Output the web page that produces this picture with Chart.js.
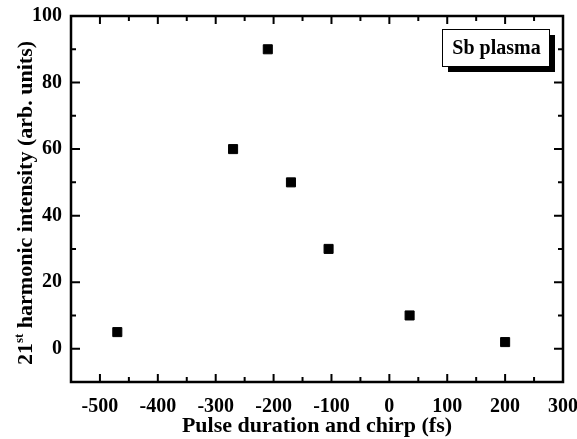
<!DOCTYPE html>
<html>
<head>
<meta charset="utf-8">
<script src="https://cdn.jsdelivr.net/npm/chart.js@4"></script>
<style>
  html, body { margin: 0; padding: 0; background: #fff; }
  canvas { display: block; }
</style>
</head>
<body>
<canvas id="chart" width="577" height="439"></canvas>
<script>
// data
const pulseDuration = [-470, -270, -210, -170, -105, 35, 200];
const intensity = [5, 60, 90, 50, 30, 10, 2];
const xTicks = [-500, -400, -300, -200, -100, 0, 100, 200, 300];
const yTicks = [0, 20, 40, 60, 80, 100];
const xMinor = [-550, -450, -350, -250, -150, -50, 50, 150, 250];
const yMinor = [-10, 10, 30, 50, 70, 90];

const FONT = '"Liberation Serif", "Times New Roman", serif';

// frame, inward ticks, axis titles and the label box
const framePlugin = {
    id: 'frame',
    afterDraw(chart) {
        const ctx = chart.ctx;
        const a = chart.chartArea;
        const xs = chart.scales.x, ys = chart.scales.y;
        ctx.save();
        ctx.strokeStyle = '#000';
        ctx.lineWidth = 2.5;
        ctx.strokeRect(a.left, a.top, a.right - a.left, a.bottom - a.top);

        ctx.lineWidth = 2;
        ctx.beginPath();
        xTicks.forEach(v => {
            const px = xs.getPixelForValue(v);
            ctx.moveTo(px, a.bottom); ctx.lineTo(px, a.bottom - 8);
            ctx.moveTo(px, a.top); ctx.lineTo(px, a.top + 8);
        });
        xMinor.forEach(v => {
            const px = xs.getPixelForValue(v);
            ctx.moveTo(px, a.bottom); ctx.lineTo(px, a.bottom - 5);
            ctx.moveTo(px, a.top); ctx.lineTo(px, a.top + 5);
        });
        yTicks.forEach(v => {
            const py = ys.getPixelForValue(v);
            ctx.moveTo(a.left, py); ctx.lineTo(a.left + 9, py);
            ctx.moveTo(a.right, py); ctx.lineTo(a.right - 9, py);
        });
        yMinor.forEach(v => {
            const py = ys.getPixelForValue(v);
            ctx.moveTo(a.left, py); ctx.lineTo(a.left + 5, py);
            ctx.moveTo(a.right, py); ctx.lineTo(a.right - 5, py);
        });
        ctx.stroke();

        // x title
        ctx.fillStyle = '#000';
        ctx.font = 'bold 22px ' + FONT;
        ctx.textAlign = 'center';
        ctx.textBaseline = 'alphabetic';
        ctx.fillText('Pulse duration and chirp (fs)', (a.left + a.right) / 2, 432);

        // y title with superscript
        ctx.save();
        ctx.translate(32, 203);
        ctx.rotate(-Math.PI / 2);
        const p1 = '21', p2 = 'st', p3 = ' harmonic intensity (arb. units)';
        ctx.font = 'bold 22px ' + FONT;
        const w1 = ctx.measureText(p1).width;
        const w3 = ctx.measureText(p3).width;
        ctx.font = 'bold 13px ' + FONT;
        const w2 = ctx.measureText(p2).width;
        let x0 = -(w1 + w2 + w3) / 2;
        ctx.textAlign = 'left';
        ctx.font = 'bold 22px ' + FONT;
        ctx.fillText(p1, x0, 0);
        ctx.font = 'bold 13px ' + FONT;
        ctx.fillText(p2, x0 + w1, -9);
        ctx.font = 'bold 22px ' + FONT;
        ctx.fillText(p3, x0 + w1 + w2, 0);
        ctx.restore();

        // label box with shadow
        const bx = 442, by = 29, bw = 107, bh = 37;
        ctx.fillStyle = '#000';
        ctx.fillRect(bx + 6, by + 6, bw, bh);
        ctx.fillStyle = '#fff';
        ctx.fillRect(bx, by, bw, bh);
        ctx.lineWidth = 1;
        ctx.strokeStyle = '#000';
        ctx.strokeRect(bx + 0.5, by + 0.5, bw, bh);
        ctx.fillStyle = '#000';
        ctx.font = 'bold 20px ' + FONT;
        ctx.textAlign = 'center';
        ctx.textBaseline = 'middle';
        ctx.fillText('Sb plasma', bx + bw / 2 + 1, by + bh / 2 + 1);
        ctx.restore();
    }
};

new Chart(document.getElementById('chart'), {
    type: 'scatter',
    data: {
        datasets: [{
            data: pulseDuration.map((x, i) => ({ x: x, y: intensity[i] })),
            backgroundColor: '#000',
            borderColor: '#000',
            borderWidth: 1,
            pointStyle: 'rect',
            pointRadius: 6.4,
            pointHoverRadius: 6.4
        }]
    },
    options: {
        responsive: false,
        animation: false,
        devicePixelRatio: 1,
        layout: { padding: { top: 16, right: 14, left: 0, bottom: 0 } },
        plugins: { legend: { display: false }, tooltip: { enabled: false } },
        scales: {
            x: {
                type: 'linear',
                min: -550,
                max: 300,
                grid: { display: false, drawTicks: false, tickLength: 0 },
                border: { display: false },
                afterBuildTicks: s => { s.ticks = xTicks.map(v => ({ value: v })); },
                afterFit: s => { s.height = 57; s.paddingLeft = 0; s.paddingRight = 0; },
                ticks: {
                    color: '#000',
                    padding: 13,
                    maxRotation: 0,
                    autoSkip: false,
                    font: { family: FONT, size: 20, weight: 'bold' }
                }
            },
            y: {
                min: -10,
                max: 100,
                grid: { display: false, drawTicks: false, tickLength: 0 },
                border: { display: false },
                afterBuildTicks: s => { s.ticks = yTicks.map(v => ({ value: v })); },
                afterFit: s => { s.width = 71; s.paddingTop = 0; s.paddingBottom = 0; },
                ticks: {
                    color: '#000',
                    padding: 9,
                    autoSkip: false,
                    font: { family: FONT, size: 20, weight: 'bold' }
                }
            }
        }
    },
    plugins: [framePlugin]
});
</script>
</body>
</html>
